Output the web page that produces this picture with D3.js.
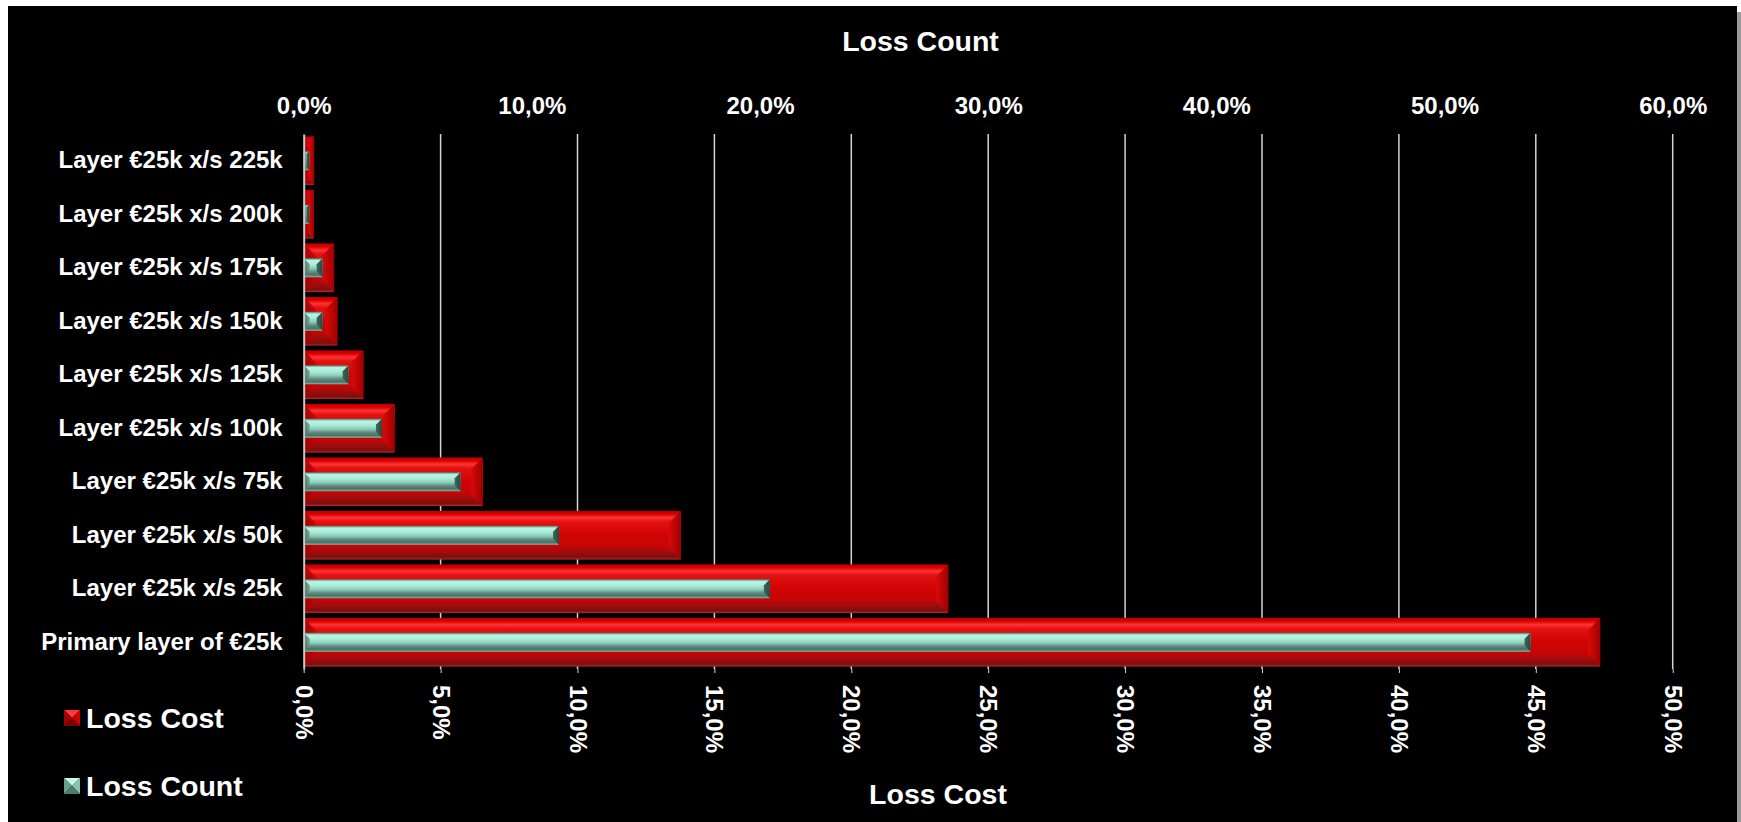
<!DOCTYPE html>
<html>
<head>
<meta charset="utf-8">
<script src="https://cdn.jsdelivr.net/npm/d3@7.9.0/dist/d3.min.js"></script>
<style>
  body { margin: 0; background: #ffffff; }
  svg { display: block; }
  text { font-family: "Liberation Sans", Arial, sans-serif; font-weight: bold; fill: #ffffff; }
</style>
</head>
<body>
<svg id="chart" width="1741" height="822"></svg>
<script>
// Layers, top to bottom as they appear in the chart
const categories = [
  "Layer €25k x/s 225k",
  "Layer €25k x/s 200k",
  "Layer €25k x/s 175k",
  "Layer €25k x/s 150k",
  "Layer €25k x/s 125k",
  "Layer €25k x/s 100k",
  "Layer €25k x/s 75k",
  "Layer €25k x/s 50k",
  "Layer €25k x/s 25k",
  "Primary layer of €25k"
];
// Loss Cost share (bottom axis), Loss Count share (top axis)
const lossCost  = [0.0038, 0.0037, 0.0111, 0.0123, 0.0218, 0.0332, 0.0654, 0.1377, 0.2354, 0.4735];
const lossCount = [0.0024, 0.0024, 0.0083, 0.0083, 0.0197, 0.0343, 0.0688, 0.1119, 0.2043, 0.5377];
const costTicks  = [0, 0.05, 0.10, 0.15, 0.20, 0.25, 0.30, 0.35, 0.40, 0.45, 0.50];
const countTicks = [0, 0.10, 0.20, 0.30, 0.40, 0.50, 0.60];

const locale = d3.formatLocale({ decimal: ",", thousands: ".", grouping: [3], currency: ["€", ""] });
const pct = locale.format(".1%");

const svg = d3.select("#chart");
const plot = { left: 303.7, right: 1672.7, top: 134, bottom: 669 };

const xCost = d3.scaleLinear().domain([0, 0.5]).range([plot.left, plot.right]);
const xCount = d3.scaleLinear().domain([0, 0.6]).range([plot.left, plot.right]);
const y = d3.scaleBand().domain(categories).range([plot.top, plot.bottom])
  .paddingInner(0.09).paddingOuter(0.045);

// gradients for the bevelled bar look
const defs = svg.append("defs");
function vGrad(id, stops) {
  const g = defs.append("linearGradient").attr("id", id)
    .attr("x1", 0).attr("y1", 0).attr("x2", 0).attr("y2", 1);
  stops.forEach(([o, c]) => g.append("stop").attr("offset", o).attr("stop-color", c));
}
function hGrad(id, stops) {
  const g = defs.append("linearGradient").attr("id", id)
    .attr("x1", 0).attr("y1", 0).attr("x2", 1).attr("y2", 0);
  stops.forEach(([o, c]) => g.append("stop").attr("offset", o).attr("stop-color", c));
}
vGrad("redFace", [[0, "#b80000"], [0.07, "#dc0000"], [0.14, "#ff3434"], [0.22, "#e41212"],
  [0.5, "#cf0303"], [0.72, "#c60606"], [0.86, "#9c0c0c"], [0.95, "#7e0e0e"], [1, "#b02a2a"]]);
hGrad("redRight", [[0, "#d80a0a"], [1, "#a00000"]]);
hGrad("redLeft", [[0, "#9a0000"], [1, "#c40404"]]);
vGrad("tealFace", [[0, "#4d7a6e"], [0.12, "#b8f4e2"], [0.32, "#a9eedb"], [0.55, "#8ccab8"],
  [0.72, "#5e8a7d"], [0.88, "#4a7266"], [1, "#86bcad"]]);
hGrad("tealRight", [[0, "#3e685c"], [1, "#27463e"]]);
hGrad("tealLeft", [[0, "#3a5f55"], [1, "#6e9f91"]]);

// chart background with a light drop shadow on the right
svg.append("rect").attr("x", 1736).attr("y", 12).attr("width", 5).attr("height", 810).attr("fill", "#9a9a9a");
svg.append("rect").attr("x", 8).attr("y", 6).attr("width", 1729).attr("height", 816).attr("fill", "#000000");

// vertical gridlines from the Loss Cost scale
svg.append("g").selectAll("line")
  .data(costTicks.slice(1))
  .join("line")
  .attr("x1", d => xCost(d)).attr("x2", d => xCost(d))
  .attr("y1", plot.top).attr("y2", plot.bottom)
  .attr("stroke", "#d4d4d4").attr("stroke-width", 1.5);

function bevelBar(g, x0, x1, y0, y1, pal, bev) {
  if (x1 - x0 <= 0) return;
  const b = Math.min(bev, (x1 - x0) / 2, (y1 - y0) / 2);
  g.append("rect").attr("x", x0).attr("y", y0).attr("width", x1 - x0).attr("height", y1 - y0)
    .attr("fill", `url(#${pal}Face)`);
  g.append("polygon")
    .attr("points", [[x0, y0], [x0 + b, y0 + b], [x0 + b, y1 - b], [x0, y1]].join(" "))
    .attr("fill", `url(#${pal}Left)`).attr("opacity", 0.85);
  g.append("polygon")
    .attr("points", [[x1, y0], [x1 - b, y0 + b], [x1 - b, y1 - b], [x1, y1]].join(" "))
    .attr("fill", `url(#${pal}Right)`);
}

const bars = svg.append("g");
categories.forEach((c, i) => {
  const y0 = y(c), h = y.bandwidth();
  bevelBar(bars, xCost(0), xCost(lossCost[i]), y0, y0 + h, "red", 12);
  const th = h * 0.39, ty = y0 + (h - th) / 2;
  bevelBar(bars, xCount(0), xCount(lossCount[i]), ty, ty + th, "teal", 6);
});

// category axis
const yAxis = svg.append("g").attr("transform", `translate(${plot.left},0)`)
  .call(d3.axisLeft(y).tickSize(0).tickSizeOuter(0).tickPadding(21));
yAxis.select(".domain").attr("stroke", "#c8c8c8").attr("stroke-width", 2);
yAxis.selectAll("text").attr("font-size", 24).attr("fill", "#fff")
  .attr("font-family", "Liberation Sans, Arial, sans-serif").attr("font-weight", "bold");

// top axis: Loss Count
const topAxis = svg.append("g").attr("transform", "translate(0,114)")
  .call(d3.axisTop(xCount).tickValues(countTicks).tickFormat(pct).tickSize(0).tickPadding(0));
topAxis.select(".domain").remove();
topAxis.selectAll("text").attr("font-size", 24).attr("fill", "#fff")
  .attr("font-family", "Liberation Sans, Arial, sans-serif").attr("font-weight", "bold");

// bottom axis: Loss Cost, labels turned 90 degrees
const botAxis = svg.append("g").attr("transform", `translate(0,${plot.bottom})`)
  .call(d3.axisBottom(xCost).tickValues(costTicks).tickFormat(pct).tickSize(4).tickSizeOuter(0));
botAxis.select(".domain").remove();
botAxis.selectAll("line").attr("stroke", "#d4d4d4");
botAxis.selectAll("text")
  .attr("transform", "rotate(90)")
  .attr("x", 16).attr("y", 0).attr("dy", "0.35em")
  .attr("text-anchor", "start")
  .attr("font-size", 24).attr("fill", "#fff")
  .attr("font-family", "Liberation Sans, Arial, sans-serif").attr("font-weight", "bold");

// axis titles
svg.append("text").attr("x", 920.5).attr("y", 51).attr("text-anchor", "middle")
  .attr("font-size", 28.5).text("Loss Count");
svg.append("text").attr("x", 938).attr("y", 804).attr("text-anchor", "middle")
  .attr("font-size", 28.5).text("Loss Cost");

// legend
const legendItems = [
  { label: "Loss Cost", colors: ["#ff3a3a", "#d00000", "#7c0000", "#a00000"] },
  { label: "Loss Count", colors: ["#c6f8e8", "#86c4b2", "#4f7b6e", "#6a9e8f"] }
];
const legend = svg.append("g");
legendItems.forEach((d, i) => {
  const cy = 718 + i * 68, s = 16, x0 = 64, y0 = cy - s / 2;
  const cx = x0 + s / 2, cyy = y0 + s / 2;
  const tris = [
    [[x0, y0], [x0 + s, y0], [cx, cyy]],
    [[x0 + s, y0], [x0 + s, y0 + s], [cx, cyy]],
    [[x0, y0 + s], [x0 + s, y0 + s], [cx, cyy]],
    [[x0, y0], [x0, y0 + s], [cx, cyy]]
  ];
  tris.forEach((t, k) => legend.append("polygon").attr("points", t.join(" ")).attr("fill", d.colors[k]));
  legend.append("text").attr("x", 86).attr("y", cy + 10).attr("font-size", 28.5).text(d.label);
});
</script>
</body>
</html>
